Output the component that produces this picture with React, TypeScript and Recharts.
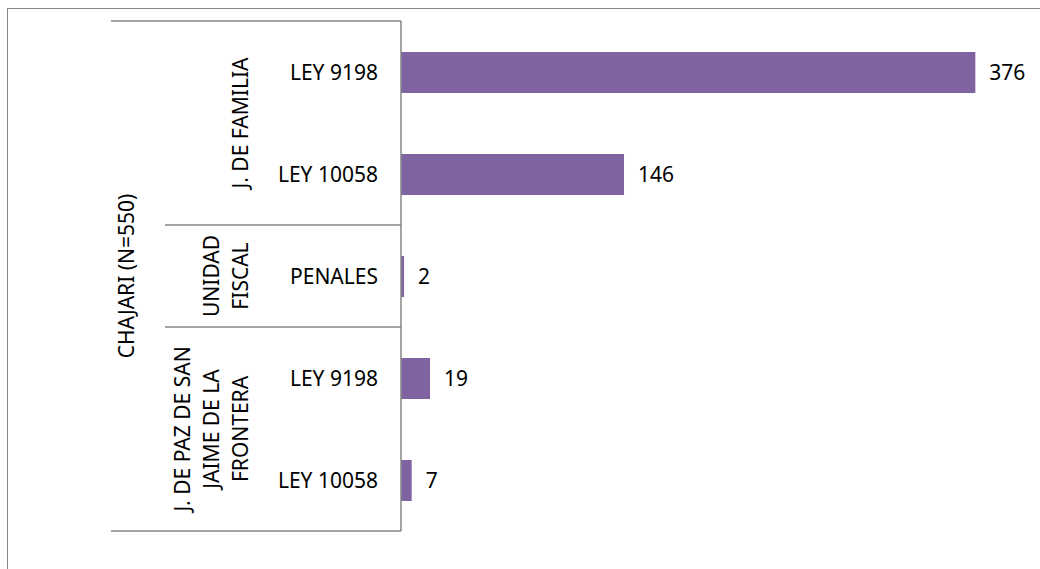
import React from "react";
import { BarChart, Bar, XAxis, YAxis, LabelList } from "recharts";

const categories = ["LEY 9198", "LEY 10058", "PENALES", "LEY 9198", "LEY 10058"];
const values = [376, 146, 2, 19, 7];
const groupLines = [["J. DE FAMILIA"], ["UNIDAD", "FISCAL"], ["J. DE PAZ DE SAN", "JAIME DE LA", "FRONTERA"]];
const groupSizes = [2, 1, 2];
const outerLabel = "CHAJARI (N=550)";
const xDomain = [0, 400];

const W = 1040;
const H = 569;
const M = { top: 21, right: 28, bottom: 38, left: 0 };
const AXIS_W = 401;
const FONT = "'Noto Sans', 'Open Sans', sans-serif";
const FS = 21;
const LINE_H = 29;
const GRAY = "#868686";

const groupOf: number[] = [];
const groupStart: number[] = [];
{
  let idx = 0;
  groupSizes.forEach((s, g) => {
    groupStart.push(idx);
    for (let i = 0; i < s; i++) groupOf.push(g);
    idx += s;
  });
}

const data = categories.map((c, i) => ({
  key: `${i}|${c}`,
  label: c,
  value: values[i],
}));

const band = (H - M.top - M.bottom) / categories.length;

function Tick(props: any) {
  const x = Number(props.x);
  const y = Number(props.y);
  const payload = props.payload;
  const i: number = payload?.index ?? props.index ?? 0;
  const g = groupOf[i];
  const els: React.ReactNode[] = [];
  els.push(
    <text key="lab" x={x - 23} y={y} textAnchor="end" dominantBaseline="central"
      fontFamily={FONT} fontSize={FS} fill="#000">{categories[i]}</text>
  );
  if (i === 0) {
    const ty = y - band / 2;
    els.push(<path key="top" d={`M${x - 290},${ty}H${x}`} stroke={GRAY} strokeWidth={1.5} fill="none" />);
    const cy = y - band / 2 + (categories.length * band) / 2;
    const bx = x - 267;
    els.push(
      <text key="outer" x={bx} y={cy} textAnchor="middle" transform={`rotate(-90, ${bx}, ${cy})`}
        fontFamily={FONT} fontSize={FS} fill="#000">{outerLabel}</text>
    );
  }
  if (groupStart[g] === i) {
    const lines = groupLines[g];
    const cy = y - band / 2 + (groupSizes[g] * band) / 2;
    lines.forEach((ln, j) => {
      const bx = x - 153 - (lines.length - 1 - j) * LINE_H;
      els.push(
        <text key={`g${j}`} x={bx} y={cy} textAnchor="middle" transform={`rotate(-90, ${bx}, ${cy})`}
          fontFamily={FONT} fontSize={FS} fill="#000">{ln}</text>
      );
    });
  }
  const isGroupEnd = groupStart[g] + groupSizes[g] - 1 === i;
  const by = y + band / 2;
  if (i === categories.length - 1) {
    els.push(<path key="bot" d={`M${x - 290},${by}H${x}`} stroke={GRAY} strokeWidth={1.5} fill="none" />);
  } else if (isGroupEnd) {
    els.push(<path key="sep" d={`M${x - 236},${by}H${x}`} stroke={GRAY} strokeWidth={1.5} fill="none" />);
  }
  return <g>{els}</g>;
}

export default function App() {
  return (
    <div style={{ position: "absolute", left: 0, top: 0, width: W, height: H, overflow: "hidden", background: "#fff" }}>
      <div style={{ position: "absolute", left: 7, top: 8, width: W + 50, height: H + 50, borderTop: `1px solid ${GRAY}`, borderLeft: `1px solid ${GRAY}` }} />
      <div style={{ position: "absolute", left: 0, top: 0 }}>
        <BarChart width={W} height={H} data={data} layout="vertical" margin={M}>
          <XAxis type="number" domain={xDomain} hide />
          <YAxis type="category" dataKey="key" width={AXIS_W} tickSize={0} tickMargin={0}
            axisLine={{ stroke: GRAY, strokeWidth: 1.5 }} tickLine={false} tick={<Tick />} interval={0} />
          <Bar dataKey="value" fill="#8064A2" barSize={41} isAnimationActive={false}>
            <LabelList dataKey="value" position="right" offset={14} fill="#000" fontSize={FS} fontFamily={FONT} />
          </Bar>
        </BarChart>
      </div>
    </div>
  );
}
